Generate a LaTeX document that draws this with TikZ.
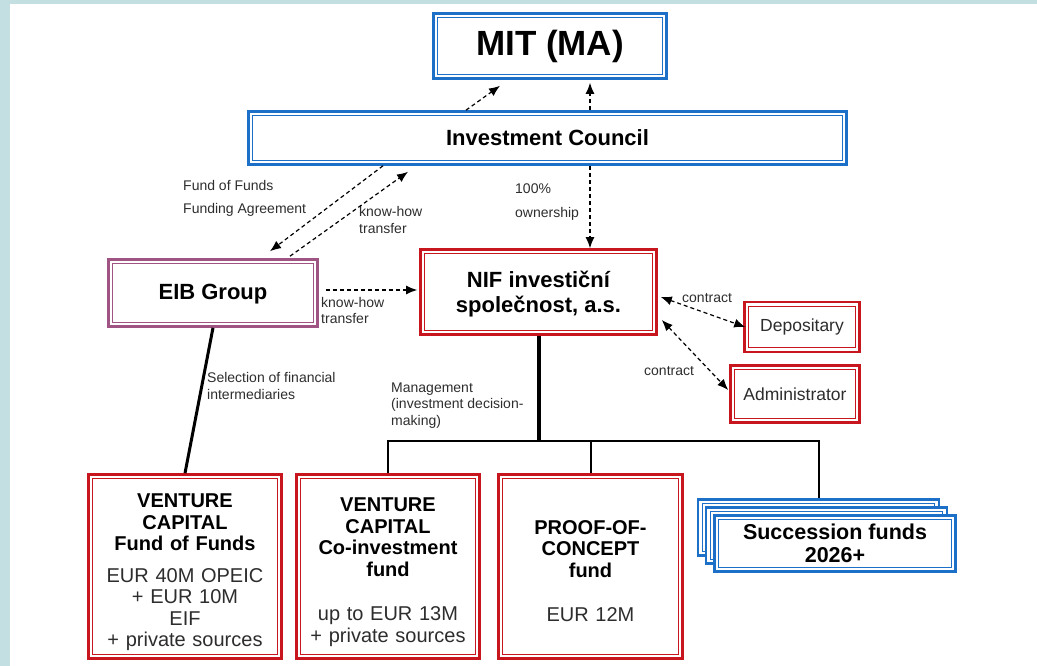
\documentclass[tikz,border=0pt]{standalone}
\usepackage{fontspec}
\setmainfont{Liberation Sans}
\usetikzlibrary{arrows.meta}
\definecolor{stripblue}{RGB}{196,223,226}
\definecolor{frameblue}{RGB}{28,112,200}
\definecolor{framered}{RGB}{200,22,30}
\definecolor{framemauve}{RGB}{160,84,132}
\definecolor{labelgray}{RGB}{45,45,45}
\newcommand\fs[2]{\fontsize{#1}{#2}\selectfont}
\begin{document}
\begin{tikzpicture}[x=1pt,y=-1pt,
	dbox/.style={draw=#1,line width=2.6pt,fill=white,inner sep=0pt,align=center,
		path picture={\draw[#1,line width=1.3pt] ([shift={(4.3pt,4.3pt)}]path picture bounding box.south west) rectangle ([shift={(-4.3pt,-4.3pt)}]path picture bounding box.north east);}},
	fundbox/.style={dbox=framered,minimum width=#1,minimum height=184,text width=#1-8pt,font=\fs{20}{21.5}},
	lbl/.style={text=labelgray,font=\fs{14}{16.5},align=left,inner sep=0pt,anchor=west},
	flow/.style={dash pattern=on 4pt off 3pt,line width=1.2pt,-{Latex[length=11pt,width=9pt]}},
	both/.style={dash pattern=on 4pt off 3pt,line width=1.2pt,{Latex[length=11pt,width=9pt]}-{Latex[length=11pt,width=9pt]}}]
	\useasboundingbox (0,0) rectangle (1037,666);
	\fill[stripblue] (0,0) rectangle (10,666);
	\fill[stripblue] (0,0) rectangle (1037,4);
	\node[dbox=frameblue,minimum width=233,minimum height=65,font=\bfseries\fs{35}{40}] (mit) at (550,46) {MIT (MA)};
	\node[dbox=frameblue,minimum width=598,minimum height=53,font=\bfseries\fs{22}{26}] (ic) at (547.5,138) {Investment Council};
	\node[dbox=framemauve,minimum width=209,minimum height=67,text depth=2pt,font=\bfseries\fs{22}{26}] (eib) at (213,293) {EIB Group};
	\node[dbox=framered,minimum width=236,minimum height=85,text depth=0pt,font=\bfseries\fs{22}{25}] (nif) at (538.5,292) {NIF investiční\\společnost, a.s.};
	\node[dbox=framered,minimum width=115,minimum height=50,text=labelgray,font=\fs{17.5}{20}] (dep) at (802,327) {Depositary};
	\node[dbox=framered,minimum width=129,minimum height=57,text=labelgray,font=\fs{17.5}{20}] (adm) at (795,394) {Administrator};
	\node[fundbox=193] (fof) at (185,566.5) {{\bfseries\rule{0pt}{26pt}VENTURE\\CAPITAL\\Fund of Funds}\\[10pt]{\color{labelgray}EUR 40M OPEIC\\+ EUR 10M\\EIF\\+ private sources}};
	\node[fundbox=183] (coi) at (388,566.5) {{\bfseries\rule{0pt}{25pt}VENTURE\\CAPITAL\\Co-investment\\fund}\\[23pt]{\color{labelgray}up to EUR 13M\\+ private sources}};
	\node[fundbox=184] (poc) at (590.5,566.5) {{\bfseries\rule{0pt}{23pt}PROOF-OF-\\CONCEPT\\fund}\\[23pt]{\color{labelgray}EUR 12M}};
	\node[dbox=frameblue,minimum width=241,minimum height=56] (sfa) at (818.5,527.5) {};
	\node[dbox=frameblue,minimum width=241,minimum height=56] (sfb) at (826.5,535.5) {};
	\node[dbox=frameblue,minimum width=241,minimum height=56,font=\bfseries\fs{21.5}{23}] (sfc) at (835,543.5) {Succession funds\\2026+};
	\node[lbl] (fflbl) at (183,198.5) {Fund of Funds\\[7pt]Funding Agreement};
	\node[lbl] (khlbl) at (359,220) {know-how\\transfer};
	\node[lbl] (ownlbl) at (515,202) {100\%\\[7pt]ownership};
	\node[lbl] (khlbl2) at (321,310.5) {know-how\\transfer};
	\node[lbl] (sellbl) at (207,386) {Selection of financial\\intermediaries};
	\node[lbl] (mgmtlbl) at (391,405.5) {Management\\(investment decision-\\making)};
	\node[lbl] (ctrlbl) at (682,298.5) {contract};
	\node[lbl] (ctrlbl2) at (644,371.5) {contract};
	\coordinate (own) at (590,0);
	\coordinate (bus) at (538.5,441);
	\draw[flow] ([xshift=-81.5pt]ic.north) -- ([xshift=-50pt,yshift=-6pt]mit.south);
	\draw[flow,shorten >=3pt] (ic.north -| own) -- (mit.south -| own);
	\draw[flow] ([xshift=-164.5pt]ic.south) -- ([xshift=57pt,yshift=7pt]eib.north);
	\draw[flow] ([xshift=77pt,yshift=2pt]eib.north) -- ([xshift=-139.5pt,yshift=-6pt]ic.south);
	\draw[flow] (ic.south -| own) -- (nif.north -| own);
	\draw[flow] ([xshift=7pt,yshift=3pt]eib.east) -- ([xshift=-2pt,yshift=2pt]nif.west);
	\draw[both] ([xshift=3pt,yshift=-5pt]nif.east) -- ([xshift=2pt]dep.west);
	\draw[both] ([xshift=4pt,yshift=-28pt]nif.east) -- ([xshift=-1pt,yshift=4pt]adm.west);
	\draw[line width=3pt] (eib.south) -- (fof.north);
	\draw[line width=4pt] (nif.south) -- (bus);
	\draw[line width=2pt] (coi.north) |- (bus) -| (sfa.north);
	\draw[line width=2pt] (poc.north) -- (poc.north |- bus);
\end{tikzpicture}
\end{document}
